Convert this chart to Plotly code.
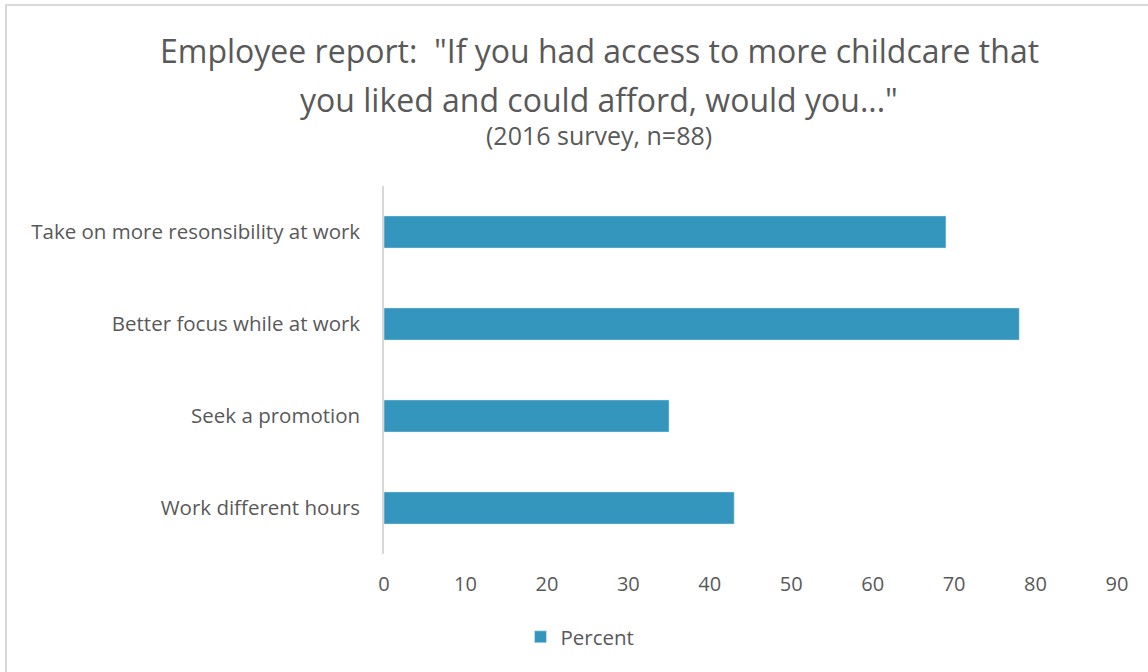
import plotly.graph_objects as go

categories = ["Take on more resonsibility at work", "Better focus while at work",
              "Seek a promotion", "Work different hours"]
percent = [69, 78, 35, 43]
tick_vals = [0, 10, 20, 30, 40, 50, 60, 70, 80, 90]

W, H = 1148, 672
L, R, T, B = 384, 31, 186, 118
FONT = "Open Sans"
GREY = "#595959"

fig = go.Figure()
fig.add_trace(go.Bar(
    y=categories, x=percent, orientation="h", name="Percent",
    marker=dict(color="#3496BD"), width=0.35, showlegend=True,
))

fig.update_layout(
    width=W, height=H,
    margin=dict(l=L, r=R, t=T, b=B, autoexpand=False),
    paper_bgcolor="white", plot_bgcolor="white",
    font=dict(family=FONT, color=GREY, size=20),
    xaxis=dict(range=[0, 90], tickvals=tick_vals, showgrid=False, zeroline=False,
               showline=False, ticks="", tickfont=dict(size=20, color=GREY),
               ticklabelstandoff=16),
    yaxis=dict(autorange="reversed", showgrid=False, zeroline=False,
               showline=True, linecolor="#D9D9D9", linewidth=1.5, ticks="",
               tickfont=dict(size=20.5, color=GREY), ticklabelstandoff=18),
    legend=dict(orientation="h", x=(580 - L) / (W - L - R), xanchor="center",
                y=-(637 - (H - B)) / (H - T - B), yanchor="middle",
                font=dict(size=20.5, color=GREY)),
    bargap=0.65,
)

def py(ypix):
    return 1 - (ypix - T) / (H - T - B)

def px(xpix):
    return (xpix - L) / (W - L - R)

fig.add_annotation(text='Employee report:  "If you had access to more childcare that',
                   x=px(599), y=py(50), xref="paper", yref="paper", showarrow=False,
                   font=dict(size=32, color=GREY, family=FONT), xanchor="center", yanchor="middle")
fig.add_annotation(text='you liked and could afford, would you..."',
                   x=px(599), y=py(99), xref="paper", yref="paper", showarrow=False,
                   font=dict(size=32, color=GREY, family=FONT), xanchor="center", yanchor="middle")
fig.add_annotation(text='(2016 survey, n=88)',
                   x=px(599), y=py(135), xref="paper", yref="paper", showarrow=False,
                   font=dict(size=25, color=GREY, family=FONT), xanchor="center", yanchor="middle")

fig.add_shape(type="rect", xref="paper", yref="paper",
              x0=px(6), x1=px(1160), y0=py(5), y1=py(690),
              line=dict(color="#D9D9D9", width=2), fillcolor="rgba(0,0,0,0)", layer="below")

fig.write_html("out.html")
